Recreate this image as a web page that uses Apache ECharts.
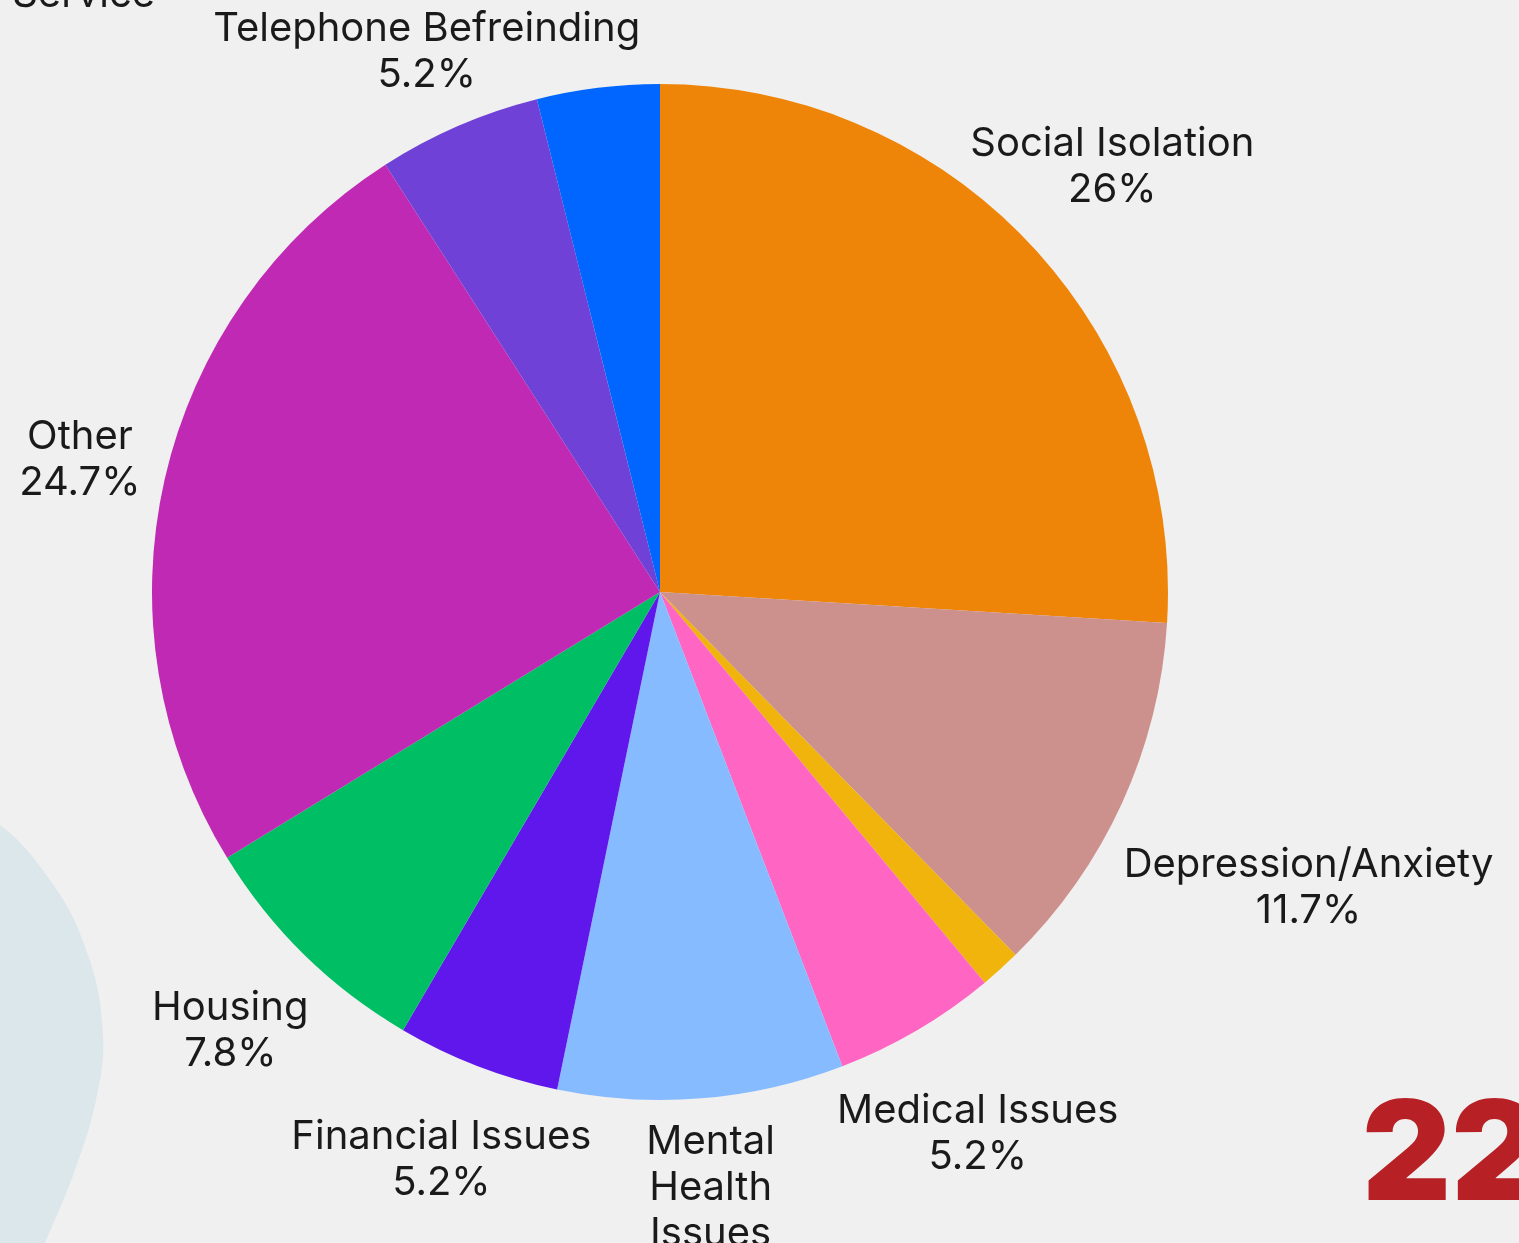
<!DOCTYPE html>
<html>
<head>
<meta charset="utf-8">
<script src="https://cdn.jsdelivr.net/npm/echarts@6/dist/echarts.min.js"></script>
<style>
html,body{margin:0;padding:0;background:#f0f0f0;}
#chart{width:1519px;height:1243px;}
</style>
</head>
<body>
<div id="chart"></div>
<script>
// ---- data ----
const categories = ['Social Isolation','Depression/Anxiety','Bereavement','Medical Issues','Mental Health Issues','Financial Issues','Housing','Other','Telephone Befreinding','Advice Service'];
const counts = [20, 9, 1, 4, 7, 4, 6, 19, 4, 3];
const colors = ['#EE8508','#CD918D','#F0B40C','#FF66C4','#87BBFF','#6017EC','#00BE63','#C029B3','#7041D6','#0066FF'];
const hiddenLabels = ['Bereavement'];

// ---- layout / style ----
const CX = 660, CY = 592, R = 508;
const FONT_SIZE = 40, LINE_H = 46, GAP = 18;
const FONT = FONT_SIZE + 'px Inter';
const total = counts.reduce((a, b) => a + b, 0);
const pct = v => parseFloat((v / total * 100).toFixed(1)) + '%';

const ctx = document.createElement('canvas').getContext('2d');
ctx.font = FONT;

function midAngle(i) {
  const cum = counts.slice(0, i).reduce((a, b) => a + b, 0);
  return (cum + counts[i] / 2) / total * 2 * Math.PI;
}
function labelLines(i) {
  const ux = Math.sin(midAngle(i));
  const words = categories[i].split(' ');
  return (Math.abs(ux) < 0.2 && words.length > 2) ? words : [categories[i]];
}

// label placement: push each label outwards along the slice's mid angle until every line clears the pie
const placed = [];
function computePos(i) {
  const mid = midAngle(i);
  const ux = Math.sin(mid), uy = -Math.cos(mid);
  const lines = labelLines(i).concat([pct(counts[i])]);
  const widths = lines.map(l => ctx.measureText(l).width);
  const H = lines.length * LINE_H;
  let t = R;
  for (; t < R + 600; t += 1) {
    const cx = t * ux, cy = t * uy;
    let ok = true;
    for (let k = 0; k < lines.length; k++) {
      const x0 = cx - widths[k] / 2, x1 = cx + widths[k] / 2;
      const y0 = cy - H / 2 + k * LINE_H, y1 = y0 + LINE_H;
      const dx = Math.max(x0, 0, -x1), dy = Math.max(y0, 0, -y1);
      if (Math.sqrt(dx * dx + dy * dy) < R + GAP) { ok = false; break; }
    }
    if (ok) break;
  }
  const w = Math.max.apply(null, widths);
  let box = {x: CX + t * ux, y: CY + t * uy, w: w, h: H, align: 'center', va: 'middle'};
  // collision with an already placed label: move to the left of it, near the top
  for (const p of placed) {
    if (Math.abs(box.x - p.x) < (box.w + p.w) / 2 && Math.abs(box.y - p.y) < (box.h + p.h) / 2) {
      box = {x: p.x - p.w / 2 - 58, y: p.y - p.h / 2 + 12, w: w, h: H, align: 'right', va: 'bottom', swapped: true};
    }
  }
  placed.push(box);
  return box;
}
const positions = categories.map((c, i) => hiddenLabels.includes(c) ? null : computePos(i));

const data = categories.map((name, i) => ({
  name: name,
  value: counts[i],
  itemStyle: {color: colors[i]},
  label: {show: !hiddenLabels.includes(name)}
}));

const chart = echarts.init(document.getElementById('chart'), null, {renderer: 'canvas'});
chart.setOption({
  backgroundColor: '#f0f0f0',
  animation: false,
  graphic: [
    {type: 'polygon', z: -10, shape: {smooth: 0.4, points: [[-160, 740], [-10, 818], [50, 880], [88, 955], [103, 1035], [96, 1100], [75, 1170], [45, 1243], [20, 1300], [-120, 1300]]}, style: {fill: '#DCE7EC'}},
    {type: 'text', z: -10, x: 1362, y: 1090, style: {text: '22', font: '900 138px Inter', fill: '#B72025'}}
  ],
  series: [{
    type: 'pie',
    center: [CX, CY],
    radius: R,
    startAngle: 90,
    clockwise: true,
    data: data,
    itemStyle: {borderWidth: 0},
    labelLine: {show: false},
    label: {
      position: 'outside',
      overflow: 'none',
      fontFamily: 'Inter',
      fontSize: FONT_SIZE,
      lineHeight: LINE_H,
      color: '#1a1a1a',
      formatter: p => {
        const name = labelLines(p.dataIndex).join('\n');
        const pos = positions[p.dataIndex];
        return (pos && pos.swapped) ? pct(p.value) + '\n' + name : name + '\n' + pct(p.value);
      }
    },
    labelLayout: p => {
      const pos = positions[p.dataIndex];
      if (!pos) return {};
      return {x: pos.x, y: pos.y, align: pos.align, verticalAlign: pos.va, hideOverlap: false};
    },
    emphasis: {disabled: true}
  }]
});
</script>
</body>
</html>
